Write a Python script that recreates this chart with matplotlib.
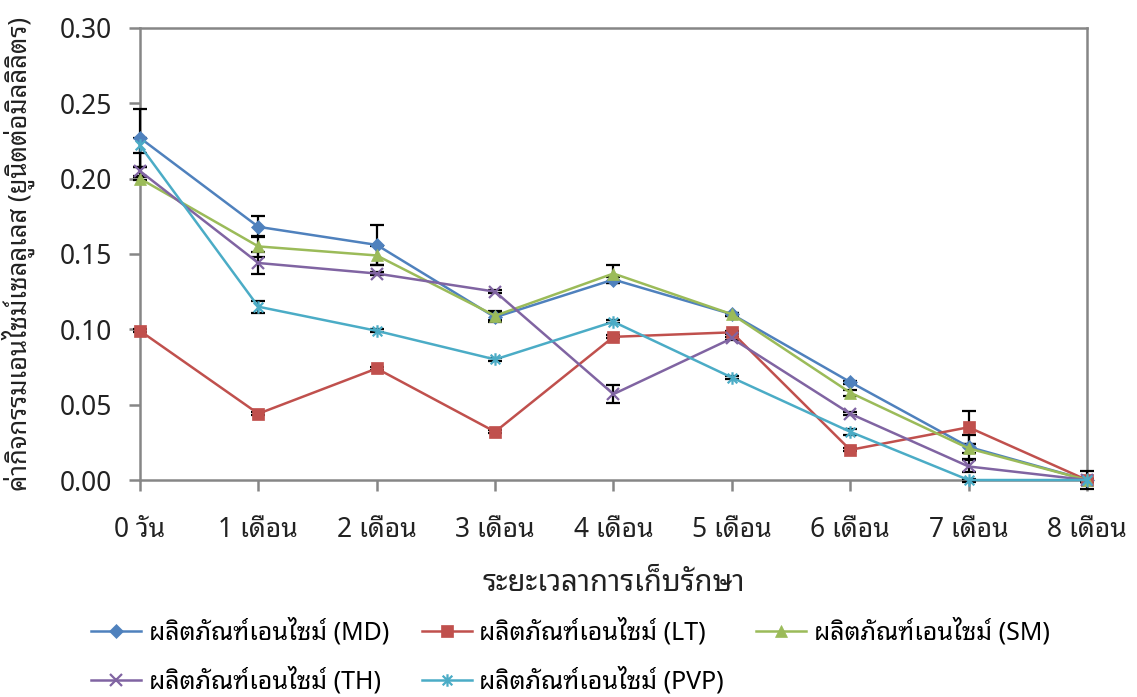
import numpy as np
import matplotlib
matplotlib.use('Agg')
import matplotlib.pyplot as plt
from matplotlib.path import Path

plt.rcParams['font.family'] = ['Noto Sans', 'Noto Sans Thai Looped', 'DejaVu Sans']

months = ['0 วัน', '1 เดือน', '2 เดือน', '3 เดือน', '4 เดือน', '5 เดือน', '6 เดือน', '7 เดือน', '8 เดือน']
labels = ['ผลิตภัณฑ์เอนไซม์ (MD)', 'ผลิตภัณฑ์เอนไซม์ (LT)', 'ผลิตภัณฑ์เอนไซม์ (SM)',
          'ผลิตภัณฑ์เอนไซม์ (TH)', 'ผลิตภัณฑ์เอนไซม์ (PVP)']

md = [0.227, 0.168, 0.156, 0.108, 0.133, 0.110, 0.065, 0.022, 0.000]
lt = [0.099, 0.044, 0.074, 0.032, 0.095, 0.098, 0.020, 0.035, 0.000]
sm = [0.200, 0.155, 0.149, 0.109, 0.137, 0.110, 0.058, 0.021, 0.000]
th = [0.205, 0.144, 0.137, 0.125, 0.057, 0.094, 0.044, 0.009, 0.000]
pvp = [0.222, 0.115, 0.099, 0.080, 0.105, 0.068, 0.032, 0.000, 0.000]

md_err = [0.019, 0.007, 0.013, 0.003, 0.002, 0.001, 0.001, 0.008, 0.001]
lt_err = [0.001, 0.001, 0.001, 0.001, 0.001, 0.001, 0.001, 0.011, 0.006]
sm_err = [0.001, 0.007, 0.006, 0.003, 0.006, 0.001, 0.002, 0.003, 0.001]
th_err = [0.003, 0.007, 0.001, 0.001, 0.006, 0.001, 0.001, 0.004, 0.001]
pvp_err = [0.005, 0.004, 0.001, 0.001, 0.001, 0.001, 0.002, 0.001, 0.001]

# excel style asterisk: x plus vertical bar
star = Path([(-1, -1), (1, 1), (-1, 1), (1, -1), (0, -1.3), (0, 1.3)],
            [Path.MOVETO, Path.LINETO, Path.MOVETO, Path.LINETO, Path.MOVETO, Path.LINETO])

colors = ['#4F81BD', '#C0504D', '#9BBB59', '#8064A2', '#4BACC6']
markers = ['D', 's', '^', 'x', star]
msizes = [7, 9, 9, 8, 9]
series = [md, lt, sm, th, pvp]
errs = [md_err, lt_err, sm_err, th_err, pvp_err]

fig = plt.figure(figsize=(11.37, 6.97), dpi=100)
ax = fig.add_axes([0.1231, 0.3113, 0.8329, 0.6487])
x = np.arange(len(months))

for y, e in zip(series, errs):
    eb = ax.errorbar(x, y, yerr=e, fmt='none', ecolor='black', elinewidth=1.6,
                     capsize=5, capthick=1.6, zorder=2.6)
    for art in eb.lines[1] + eb.lines[2]:
        art.set_clip_on(False)
handles = []
for y, c, m, ms, lab in zip(series, colors, markers, msizes, labels):
    h, = ax.plot(x, y, color=c, marker=m, markersize=ms, linewidth=1.8,
                 markeredgewidth=1.6 if (m is star or m == 'x') else 0.5,
                 markeredgecolor=c, label=lab, zorder=3, clip_on=False)
    handles.append(h)

ax.set_xlim(0, 8)
ax.set_ylim(0, 0.30)
yt = np.arange(0, 0.301, 0.05)
ax.set_yticks(yt)
ax.set_yticklabels(['%.2f' % v for v in yt])
ax.set_xticks(x)
ax.set_xticklabels(months)
for s in ax.spines.values():
    s.set_color('#868686')
    s.set_linewidth(1.8)
ax.tick_params(axis='both', colors='#868686', width=1.8, length=8, labelsize=19,
               labelcolor='#222222')
ax.tick_params(axis='y', pad=12)
ax.tick_params(axis='x', pad=18)
ax.set_xlabel('ระยะเวลาการเก็บรักษา', fontsize=21, color='#222222', labelpad=18)
ax.set_ylabel('ค่ากิจกรรมเอนไซม์เซลลูเลส (ยูนิตต่อมิลลิลิตร)', fontsize=18.5, color='#222222', labelpad=18)

# legend filled row by row like excel
order = [0, 3, 1, 4, 2]
ax.legend([handles[i] for i in order], [labels[i] for i in order],
          loc='upper left', bbox_to_anchor=(-0.075, -0.255), ncol=3, frameon=False,
          fontsize=18, handlelength=2.0, columnspacing=1.3, labelspacing=0.85,
          handletextpad=0.3)

fig.savefig('out.png', dpi=100)
